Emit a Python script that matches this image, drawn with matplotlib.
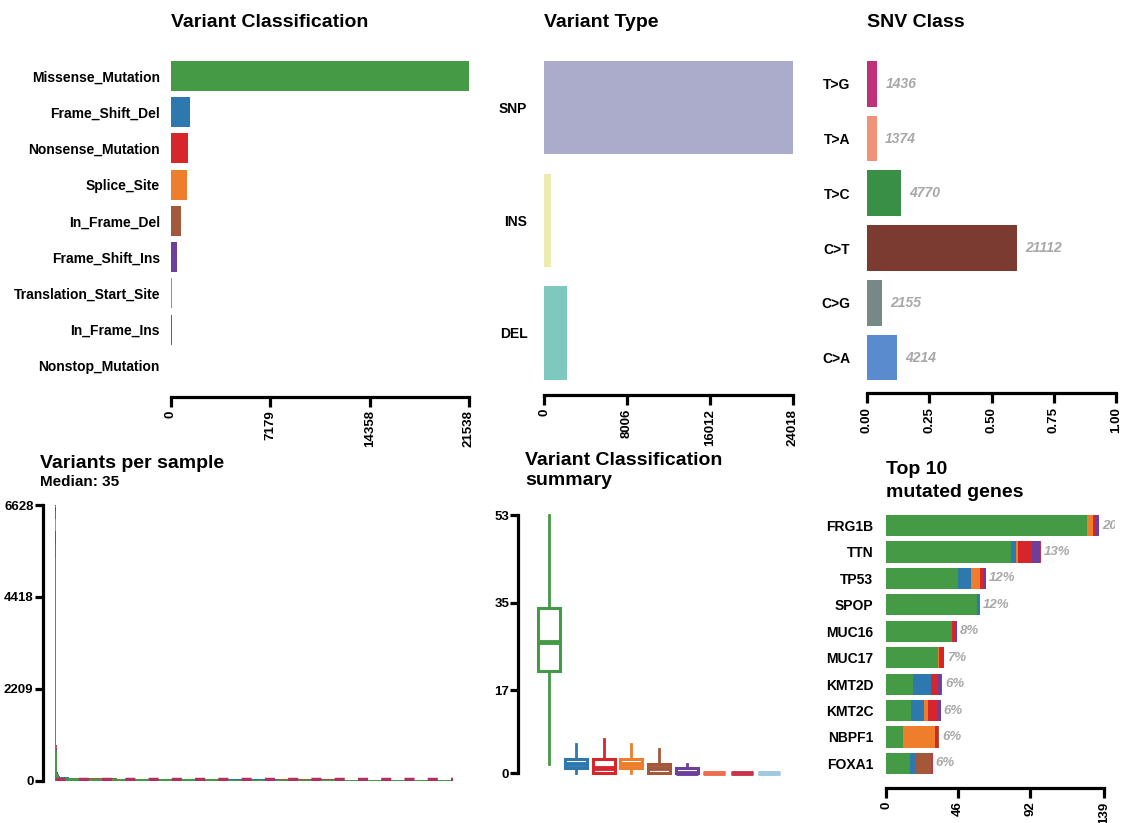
import numpy as np
import matplotlib
matplotlib.use("Agg")
import matplotlib.pyplot as plt

plt.rcParams['font.family'] = ['Liberation Sans', 'DejaVu Sans']
plt.rcParams['font.weight'] = 'bold'

W, H = 1126, 823

# ---- data ----
vc_names = ["Missense_Mutation", "Frame_Shift_Del", "Nonsense_Mutation", "Splice_Site",
            "In_Frame_Del", "Frame_Shift_Ins", "Translation_Start_Site", "In_Frame_Ins",
            "Nonstop_Mutation"]
vc_counts = [21538, 1373, 1230, 1160, 720, 430, 100, 70, 20]
vc_colors = ["#459A45", "#2E78B0", "#D7262B", "#EE7D2C", "#A4583A", "#6D3F9A",
             "#EE6D50", "#C8344C", "#9CC8E0"]

vt_names = ["SNP", "INS", "DEL"]
vt_counts = [24018, 680, 2250]
vt_colors = ["#ABACCC", "#ECEBB0", "#7FC8BD"]

snv_names = ["T>G", "T>A", "T>C", "C>T", "C>G", "C>A"]
snv_counts = [1436, 1374, 4770, 21112, 2155, 4214]
snv_colors = ["#C0307A", "#F0937A", "#3A8F46", "#7B3B30", "#778887", "#5B8BCF"]

# variants per sample, sorted descending: top samples then runs of similar values
top_samples = [6628, 860, 320, 200, 150, 120, 100]
tail_levels = [90, 70, 55, 45, 38, 35, 30, 24, 17, 9]
tail_runs = [10, 20, 40, 60, 80, 60, 80, 70, 50, 18]
median_vps = 35

# boxplot stats per class: q1, median, q3, whisker low, whisker high
box_q1 = [21, 1, 0, 1, 0, 0, 0, 0, 0]
box_med = [27, 2, 1, 2, 1, 0, 0, 0, 0]
box_q3 = [34, 3, 3, 3, 2, 1, 0, 0, 0]
box_lo = [2, 0, 0, 0, 0, 0, 0, 0, 0]
box_hi = [53, 6, 7, 6, 5, 2, 0, 0, 0]

genes = ["FRG1B", "TTN", "TP53", "SPOP", "MUC16", "MUC17", "KMT2D", "KMT2C", "NBPF1", "FOXA1"]
gene_missense = [128, 80, 46, 58, 42, 33, 17, 16, 11, 15]
gene_fsd = [0, 3, 8, 1, 0, 0, 12, 8, 0, 4]
gene_splice = [4, 1, 6, 0, 0, 1, 0, 3, 20, 0]
gene_nonsense = [1, 9, 2, 0, 2, 3, 4, 6, 2, 0]
gene_ifd = [0, 0, 0, 1, 0, 0, 0, 0, 1, 10]
gene_fsi = [3, 5, 2, 0, 1, 0, 2, 2, 0, 0]
gene_ifi = [0, 1, 0, 0, 0, 0, 1, 0, 0, 1]
gene_pct = ["20%", "13%", "12%", "12%", "8%", "7%", "6%", "6%", "6%", "6%"]

GRAY = "#A8A8A8"
SPW = 2.3


def ax_px(l, t, r, b):
    return fig.add_axes([l / W, 1 - b / H, (r - l) / W, (b - t) / H])


def bottom_axis(ax, lo, hi, ticks, labels, offset):
    for s in ["left", "top", "right"]:
        ax.spines[s].set_visible(False)
    ax.spines["bottom"].set_position(("outward", offset))
    ax.spines["bottom"].set_bounds(lo, hi)
    ax.spines["bottom"].set_linewidth(SPW)
    ax.set_xticks(ticks, labels, rotation=90, fontsize=9.5)
    ax.tick_params(axis="x", length=7, width=SPW, pad=3)


def left_axis(ax, lo, hi, ticks, offset):
    for s in ["bottom", "top", "right"]:
        ax.spines[s].set_visible(False)
    ax.spines["left"].set_position(("outward", offset))
    ax.spines["left"].set_bounds(lo, hi)
    ax.spines["left"].set_linewidth(SPW)
    ax.set_yticks(ticks, [str(t) for t in ticks], fontsize=9.5)
    ax.tick_params(axis="y", length=5.5, width=SPW, pad=1)
    ax.set_xticks([])


fig = plt.figure(figsize=(W / 100, H / 100), dpi=100)

# ---- Variant Classification ----
ax1 = ax_px(171, 57.7, 469, 384)
y1 = np.arange(len(vc_names))
ax1.barh(y1, vc_counts, height=0.83, color=vc_colors)
ax1.set_xlim(0, max(vc_counts))
ax1.set_ylim(len(vc_names) - 0.5, -0.5)
ax1.set_yticks(y1, vc_names, fontsize=10)
ax1.tick_params(axis="y", length=0, pad=8)
t1 = [0, 7179, 14358, 21538]
bottom_axis(ax1, 0, 21538, t1, [str(t) for t in t1], 9)
fig.text(171 / W, 1 - 27 / H, "Variant Classification", fontsize=14, ha="left", va="baseline")

# ---- Variant Type ----
ax2 = ax_px(544, 51.4, 793, 389.3)
y2 = np.arange(len(vt_names))
ax2.barh(y2, vt_counts, height=0.83, color=vt_colors)
ax2.set_xlim(0, max(vt_counts))
ax2.set_ylim(len(vt_names) - 0.5, -0.5)
ax2.set_yticks(y2, vt_names, fontsize=10)
ax2.tick_params(axis="y", length=0, pad=12)
t2 = [0, 8006, 16012, 24018]
bottom_axis(ax2, 0, 24018, t2, [str(t) for t in t2], 4)
fig.text(544 / W, 1 - 27 / H, "Variant Type", fontsize=14, ha="left", va="baseline")

# ---- SNV Class ----
ax3 = ax_px(867, 56.4, 1116, 384.9)
y3 = np.arange(len(snv_names))
snv_frac = np.array(snv_counts) / sum(snv_counts)
ax3.barh(y3, snv_frac, height=0.835, color=snv_colors)
for yy, f, c in zip(y3, snv_frac, snv_counts):
    ax3.annotate(str(c), (f, yy), xytext=(6, 0), textcoords="offset points",
                 ha="left", va="center", color=GRAY, fontsize=10, style="italic")
ax3.set_xlim(0, 1)
ax3.set_ylim(len(snv_names) - 0.5, -0.5)
ax3.set_yticks(y3, snv_names, fontsize=10)
ax3.tick_params(axis="y", length=0, pad=12)
t3 = [0, 0.25, 0.5, 0.75, 1.0]
bottom_axis(ax3, 0, 1, t3, ["0.00", "0.25", "0.50", "0.75", "1.00"], 6)
fig.text(867 / W, 1 - 27 / H, "SNV Class", fontsize=14, ha="left", va="baseline")

# ---- Variants per sample ----
ax4 = ax_px(55, 505, 453, 780.7)
totals = np.concatenate([top_samples, np.repeat(tail_levels, tail_runs)]).astype(float)
xs = np.arange(len(totals))
frac = np.array(vc_counts) / sum(vc_counts)
base = np.zeros(len(totals))
for f, c in zip(frac, vc_colors):
    ax4.bar(xs, totals * f, bottom=base, width=1.0, color=c, linewidth=0)
    base += totals * f
ax4.axhline(median_vps, color="#B03060", lw=2.5, linestyle=(0, (2.9, 3.8)))
ax4.set_xlim(-0.5, len(totals) - 0.5)
ax4.set_ylim(0, 6628)
left_axis(ax4, 0, 6628, [0, 2209, 4418, 6628], 9)
fig.text(40 / W, 1 - 468 / H, "Variants per sample", fontsize=14, ha="left", va="baseline")
fig.text(40 / W, 1 - 486 / H, "Median: " + str(median_vps), fontsize=11, ha="left", va="baseline")

# ---- Variant Classification summary ----
ax5 = ax_px(535, 515, 783, 773.3)
stats = []
for i in range(len(vc_names)):
    stats.append(dict(med=box_med[i], q1=box_q1[i], q3=box_q3[i],
                      whislo=box_lo[i], whishi=box_hi[i], fliers=[]))
bp = ax5.bxp(stats, positions=np.arange(1, len(vc_names) + 1), widths=0.8,
             showcaps=False, showfliers=False, patch_artist=True)
for i, c in enumerate(vc_colors):
    bp["boxes"][i].set(facecolor="white", edgecolor=c, linewidth=2.2)
    bp["medians"][i].set(color=c, linewidth=3.5, solid_capstyle="butt")
    bp["whiskers"][2 * i].set(color=c, linewidth=2)
    bp["whiskers"][2 * i + 1].set(color=c, linewidth=2)
ax5.set_xlim(0.5, len(vc_names) + 0.5)
ax5.set_ylim(0, 53)
for b in bp["boxes"] + bp["medians"] + bp["whiskers"]:
    b.set_clip_on(False)
left_axis(ax5, 0, 53, [0, 17, 35, 53], 12)
fig.text(525 / W, 1 - 465 / H, "Variant Classification", fontsize=14, ha="left", va="baseline")
fig.text(525 / W, 1 - 485 / H, "summary", fontsize=14, ha="left", va="baseline")

# ---- Top 10 mutated genes ----
ax6 = ax_px(886, 512.3, 1115, 776.6)
y6 = np.arange(len(genes))
gene_parts = [gene_missense, gene_fsd, gene_splice, gene_nonsense, gene_ifd, gene_fsi, gene_ifi]
part_colors = [vc_colors[0], vc_colors[1], vc_colors[3], vc_colors[2], vc_colors[4],
               vc_colors[5], vc_colors[7]]
left = np.zeros(len(genes))
for part, c in zip(gene_parts, part_colors):
    ax6.barh(y6, part, left=left, height=0.8, color=c, linewidth=0)
    left += np.array(part)
for yy, tot, p in zip(y6, left, gene_pct):
    ax6.annotate(p, (tot, yy), xytext=(2, 0), textcoords="offset points",
                 ha="left", va="center", color=GRAY, fontsize=9.5, style="italic",
                 clip_on=True)
ax6.set_xlim(0, 146)
ax6.set_ylim(len(genes) - 0.5, -0.5)
ax6.set_yticks(y6, genes, fontsize=10)
ax6.tick_params(axis="y", length=0, pad=9)
bottom_axis(ax6, 0, 139, [0, 46, 92, 139], ["0", "46", "92", "139"], 8)
fig.text(886 / W, 1 - 474 / H, "Top 10", fontsize=14, ha="left", va="baseline")
fig.text(886 / W, 1 - 497 / H, "mutated genes", fontsize=14, ha="left", va="baseline")

fig.savefig("out.png", dpi=100)
